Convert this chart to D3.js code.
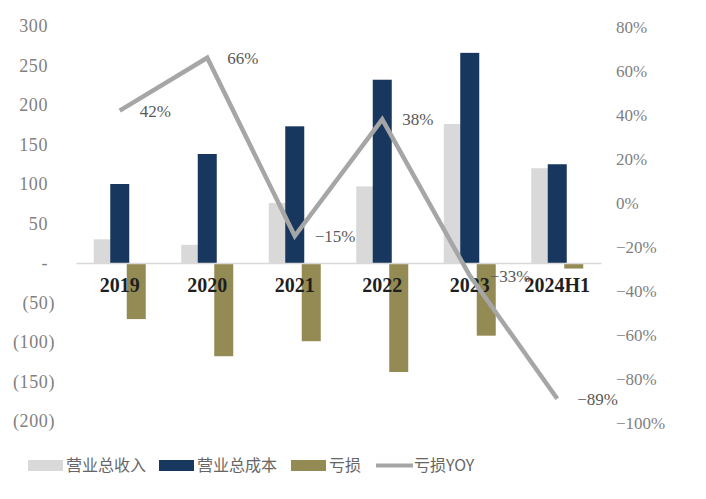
<!DOCTYPE html>
<html><head><meta charset="utf-8">
<script src="https://cdn.jsdelivr.net/npm/d3@7"></script>
<style>
html,body{margin:0;padding:0;background:#fff;}
svg{display:block;}
</style></head>
<body>
<svg id="chart" width="706" height="499"></svg>
<script>
const categories = ["2019","2020","2021","2022","2023","2024H1"];
const revenue = [30, 23, 76, 97, 176, 120];
const cost = [100, 138, 173, 232, 266, 125];
const loss = [-71, -118, -99, -138, -92, -7];
const lossYoy = [0.42, 0.66, -0.15, 0.38, -0.33, -0.89];
const yoyLabels = ["42%","66%","\u221215%","38%","\u221233%","\u221289%"];
const leftTicks = [300,250,200,150,100,50,0,-50,-100,-150,-200];
const rightTicks = [0.8,0.6,0.4,0.2,0,-0.2,-0.4,-0.6,-0.8,-1.0];
const seriesNames = ["营业总收入","营业总成本","亏损","亏损YOY"];

const colors = {rev:"#D9D9D9", cost:"#17375E", loss:"#948A54", line:"#A6A6A6"};
const serif = "'Liberation Serif','Times New Roman',serif";

const svg = d3.select("#chart");
const x = d3.scaleBand().domain(categories).range([76, 601]).padding(0);
const yL = d3.scaleLinear().domain([-200, 300]).range([421, 26]);
const yR = d3.scaleLinear().domain([-1.0, 0.8]).range([423, 27]);

const bw = 19, off = 16.5;
const cx = d => x(d) + x.bandwidth()/2;

// left axis
const axL = svg.append("g").attr("transform","translate(48,0)")
  .call(d3.axisLeft(yL).tickValues(leftTicks).tickSize(0).tickPadding(0)
    .tickFormat(v => v === 0 ? "-" : v < 0 ? "(" + (-v) + ")" : String(v)));
axL.select(".domain").remove();
axL.selectAll("text").attr("font-family", serif).attr("font-size", 18).attr("fill","#7F7F7F")
  .attr("letter-spacing", 0.6)
  .attr("dx", d => d < 0 ? 7 : 0);

// right axis
const axR = svg.append("g").attr("transform","translate(616,0)")
  .call(d3.axisRight(yR).tickValues(rightTicks).tickSize(0).tickPadding(0)
    .tickFormat(v => (v < 0 ? "\u2212" : "") + Math.round(Math.abs(v)*100) + "%"));
axR.select(".domain").remove();
axR.selectAll("text").attr("font-family", serif).attr("font-size", 17).attr("fill","#7F7F7F");

// bars
const g = svg.append("g");
g.selectAll(".rev").data(categories).join("rect")
  .attr("x", (d,i) => cx(d) - off - bw/2).attr("width", bw)
  .attr("y", (d,i) => yL(revenue[i])).attr("height", (d,i) => yL(0) - yL(revenue[i]))
  .attr("fill", colors.rev);
g.selectAll(".cost").data(categories).join("rect")
  .attr("x", d => cx(d) - bw/2).attr("width", bw)
  .attr("y", (d,i) => yL(cost[i])).attr("height", (d,i) => yL(0) - yL(cost[i]))
  .attr("fill", colors.cost);
g.selectAll(".loss").data(categories).join("rect")
  .attr("x", d => cx(d) + off - bw/2).attr("width", bw)
  .attr("y", yL(0)).attr("height", (d,i) => yL(loss[i]) - yL(0))
  .attr("fill", colors.loss);

// x axis
const axX = svg.append("g").attr("transform", `translate(0,${yL(0)})`)
  .call(d3.axisBottom(x).tickSize(0).tickPadding(15));
axX.select(".domain").attr("stroke", "#D9D9D9").attr("stroke-width", 1.5);
axX.selectAll("text").attr("font-family", serif).attr("font-size", 20).attr("font-weight","bold")
  .attr("fill","#1F1F1F");

// line
const line = d3.line().x((d,i) => cx(categories[i])).y(d => yR(d));
svg.append("path").datum(lossYoy).attr("d", line).attr("fill","none")
  .attr("stroke", colors.line).attr("stroke-width", 4.5).attr("stroke-linejoin","miter");

svg.append("g").selectAll("text").data(lossYoy).join("text")
  .attr("x", (d,i) => cx(categories[i]) + 20).attr("y", d => yR(d))
  .attr("dy", "0.35em")
  .attr("font-family", serif).attr("font-size", 17).attr("fill", "#595959")
  .text((d,i) => yoyLabels[i]);

// legend
const leg = svg.append("g").attr("font-family","'Noto Sans CJK SC',sans-serif").attr("font-size",16).attr("fill","#666");
const items = [
  {x:28, type:"rect", color:colors.rev, name:seriesNames[0]},
  {x:159, type:"rect", color:colors.cost, name:seriesNames[1]},
  {x:291, type:"rect", color:colors.loss, name:seriesNames[2]},
  {x:376, type:"line", color:colors.line, name:seriesNames[3]}
];
items.forEach(it => {
  if (it.type === "rect") {
    leg.append("rect").attr("x", it.x).attr("y", 460).attr("width", 35).attr("height", 11).attr("fill", it.color);
  } else {
    leg.append("line").attr("x1", it.x).attr("x2", it.x + 37).attr("y1", 465.5).attr("y2", 465.5)
      .attr("stroke", it.color).attr("stroke-width", 4);
  }
  leg.append("text").attr("x", it.x + 38).attr("y", 465.5).attr("dy","0.35em").text(it.name);
});
</script>
</body></html>
